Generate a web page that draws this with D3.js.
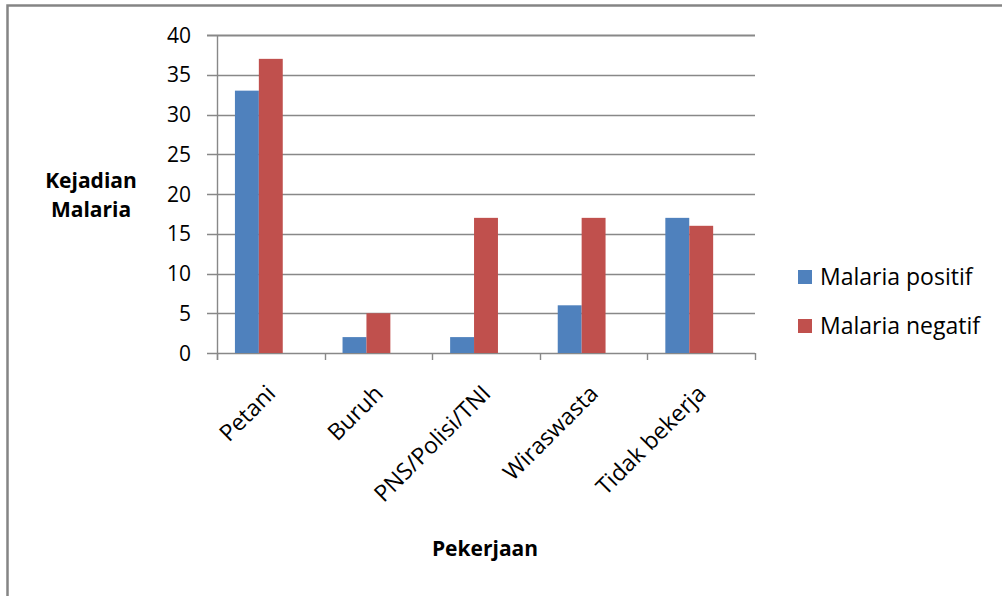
<!DOCTYPE html>
<html>
<head>
<meta charset="utf-8">
<script src="https://cdn.jsdelivr.net/npm/d3@7"></script>
<style>
  html, body { margin: 0; padding: 0; background: #fff; }
  svg { display: block; }
  text { font-family: "Open Sans", Lato, sans-serif; fill: #000; }
</style>
</head>
<body>
<svg id="chart" width="1002" height="596"></svg>
<script>
// Jumlah responden per pekerjaan
const categories = ["Petani", "Buruh", "PNS/Polisi/TNI", "Wiraswasta", "Tidak bekerja"];
const seriesNames = ["Malaria positif", "Malaria negatif"];
const positif = [33, 2, 2, 6, 17];
const negatif = [37, 5, 17, 17, 16];
const yTicks = [0, 5, 10, 15, 20, 25, 30, 35, 40];
const colors = ["#4f81bd", "#c0504d"];

const svg = d3.select("#chart");
const plot = { left: 217, right: 755, top: 35, bottom: 353 };

// Outer frame (top and left edges)
svg.append("path")
  .attr("d", "M7.5,596 V5.5 H1002")
  .attr("fill", "none")
  .attr("stroke", "#858585")
  .attr("stroke-width", 2.5);

const x0 = d3.scaleBand().domain(categories).range([plot.left, plot.right]).paddingInner(0).paddingOuter(0);
// three slots per group (third one left empty), with gap at the outside
const x1 = d3.scaleBand().domain([...seriesNames, "_"]).range([0, x0.bandwidth()]).paddingOuter(0.75).paddingInner(0);
const y = d3.scaleLinear().domain([0, 40]).range([plot.bottom, plot.top]);

// Gridlines with left tick marks
const grid = svg.append("g");
grid.selectAll("line").data(yTicks).join("line")
  .attr("x1", plot.left - 10).attr("x2", plot.right)
  .attr("y1", d => Math.round(y(d)) + 0.5).attr("y2", d => Math.round(y(d)) + 0.5)
  .attr("stroke", "#888").attr("stroke-width", d => d === 40 ? 2.2 : 1.4);

// Y tick labels
svg.append("g").selectAll("text").data(yTicks).join("text")
  .attr("x", 191).attr("y", d => y(d))
  .attr("dy", "0.36em")
  .attr("text-anchor", "end")
  .attr("font-size", 21)
  .text(d => d);

// Y axis line
svg.append("line")
  .attr("x1", plot.left + 0.5).attr("x2", plot.left + 0.5)
  .attr("y1", plot.top).attr("y2", plot.bottom + 7)
  .attr("stroke", "#888").attr("stroke-width", 1.4);

// X axis category ticks
const xEdges = categories.map(c => x0(c)).concat([plot.right]);
svg.append("g").selectAll("line").data(xEdges).join("line")
  .attr("x1", d => Math.round(d) + 0.5).attr("x2", d => Math.round(d) + 0.5)
  .attr("y1", plot.bottom).attr("y2", plot.bottom + 7)
  .attr("stroke", "#888").attr("stroke-width", 1.4);

// Bars
const rows = categories.map((c, i) => ({ cat: c, vals: [positif[i], negatif[i]] }));
const groups = svg.append("g").selectAll("g").data(rows).join("g")
  .attr("transform", d => `translate(${x0(d.cat)},0)`);
groups.selectAll("rect")
  .data(d => d.vals.map((v, j) => ({ name: seriesNames[j], v, j })))
  .join("rect")
  .attr("x", d => x1(d.name))
  .attr("width", x1.bandwidth())
  .attr("y", d => y(d.v))
  .attr("height", d => y(0) - y(d.v))
  .attr("fill", d => colors[d.j]);

// Rotated category labels
svg.append("g").selectAll("text").data(categories).join("text")
  .attr("transform", c => `translate(${x0(c) + x0.bandwidth() / 2 + 6},${plot.bottom + 42}) rotate(-45)`)
  .attr("text-anchor", "end")
  .attr("font-size", 23)
  .text(c => c);

// Axis titles
const yTitle = svg.append("text")
  .attr("text-anchor", "middle")
  .attr("font-size", 21)
  .attr("font-weight", "bold");
yTitle.append("tspan").attr("x", 91).attr("y", 188).text("Kejadian");
yTitle.append("tspan").attr("x", 91).attr("y", 217).text("Malaria");

svg.append("text")
  .attr("x", 485).attr("y", 556)
  .attr("text-anchor", "middle")
  .attr("font-size", 21)
  .attr("font-weight", "bold")
  .text("Pekerjaan");

// Legend
const legend = svg.append("g").selectAll("g").data(seriesNames).join("g")
  .attr("transform", (d, i) => `translate(798,${270 + i * 49})`);
legend.append("rect")
  .attr("width", 14).attr("height", 14)
  .attr("fill", (d, i) => colors[i]);
legend.append("text")
  .attr("x", 22).attr("y", 15)
  .attr("font-size", 23)
  .text(d => d);
</script>
</body>
</html>
